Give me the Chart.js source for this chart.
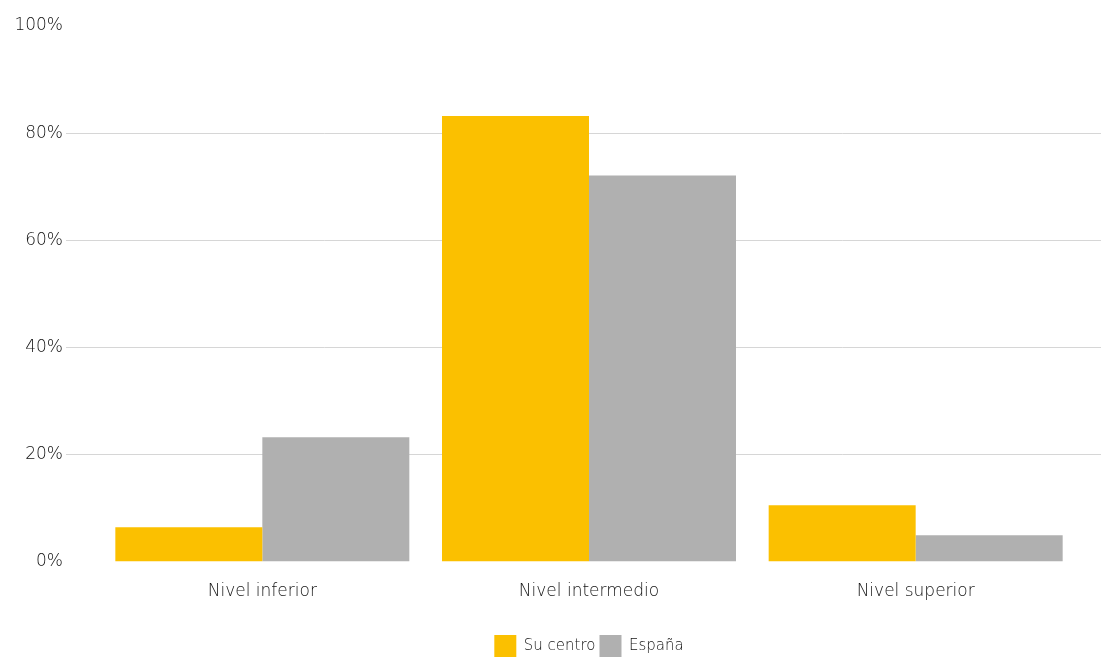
<!DOCTYPE html>
<html>
<head>
<meta charset="utf-8">
<script src="https://cdn.jsdelivr.net/npm/chart.js@4"></script>
<style>
  html, body { margin: 0; padding: 0; background: #fff; }
  #wrap { width: 1101px; height: 657px; }
</style>
</head>
<body>
<div id="wrap"><canvas id="chart" width="1101" height="657"></canvas></div>
<script>
/* Nivel de competencia: Su centro vs España */
const categories = ['Nivel inferior', 'Nivel intermedio', 'Nivel superior'];
const suCentro = [6.4, 83.2, 10.5];
const espana = [23.2, 72.1, 4.9];
const yTicks = [0, 20, 40, 60, 80, 100];

const FONT = '"DejaVu Sans", sans-serif';
const TEXT = '#141414';

/* Horizontal grid lines drawn from the tick labels to the right edge,
   and the legend centred under the plot area instead of the canvas */
const layoutPlugin = {
  id: 'wideGrid',
  beforeDraw(chart) {
    const lg = chart.legend;
    const shift = (chart.chartArea.left + chart.chartArea.right) / 2 - (lg.left + lg.right) / 2;
    lg.left += shift;
    lg.right += shift;
  },
  beforeDatasetsDraw(chart) {
    const y = chart.scales.y;
    const ctx = chart.ctx;
    ctx.save();
    ctx.strokeStyle = '#d6d6d6';
    ctx.lineWidth = 1;
    y.ticks.forEach(t => {
      if (t.value === 0 || t.value === 100) return;
      const py = Math.round(y.getPixelForValue(t.value)) + 0.5;
      ctx.beginPath();
      ctx.moveTo(66, py);
      ctx.lineTo(chart.width, py);
      ctx.stroke();
    });
    ctx.restore();
  }
};

new Chart(document.getElementById('chart'), {
  type: 'bar',
  data: {
    labels: categories,
    datasets: [
      { label: 'Su centro', data: suCentro, backgroundColor: '#fbc000', borderWidth: 0 },
      { label: 'España', data: espana, backgroundColor: '#b0b0b0', borderWidth: 0 }
    ]
  },
  options: {
    responsive: false,
    animation: false,
    layout: { padding: { top: 26, right: 22, left: 0, bottom: -10 } },
    datasets: { bar: { categoryPercentage: 0.9, barPercentage: 1.0 } },
    plugins: {
      legend: {
        position: 'bottom',
        labels: {
          boxWidth: 22, boxHeight: 22, padding: 4,
          color: TEXT,
          font: { family: FONT, size: 15, weight: 200 }
        }
      },
      tooltip: { enabled: false }
    },
    scales: {
      x: {
        grid: { display: false },
        border: { display: false },
        afterFit: axis => { axis.height += 17; },
        ticks: { color: TEXT, padding: 12, font: { family: FONT, size: 17, weight: 200 } }
      },
      y: {
        min: 0, max: 100,
        afterBuildTicks: axis => { axis.ticks = yTicks.map(v => ({ value: v })); },
        afterFit: axis => { axis.width = 99; axis.paddingTop = 0; axis.paddingBottom = 0; },
        grid: { display: false },
        border: { display: false },
        ticks: {
          color: TEXT, padding: 28,
          font: { family: FONT, size: 17, weight: 200 },
          callback: v => v + '%'
        }
      }
    }
  },
  plugins: [layoutPlugin]
});
</script>
</body>
</html>
